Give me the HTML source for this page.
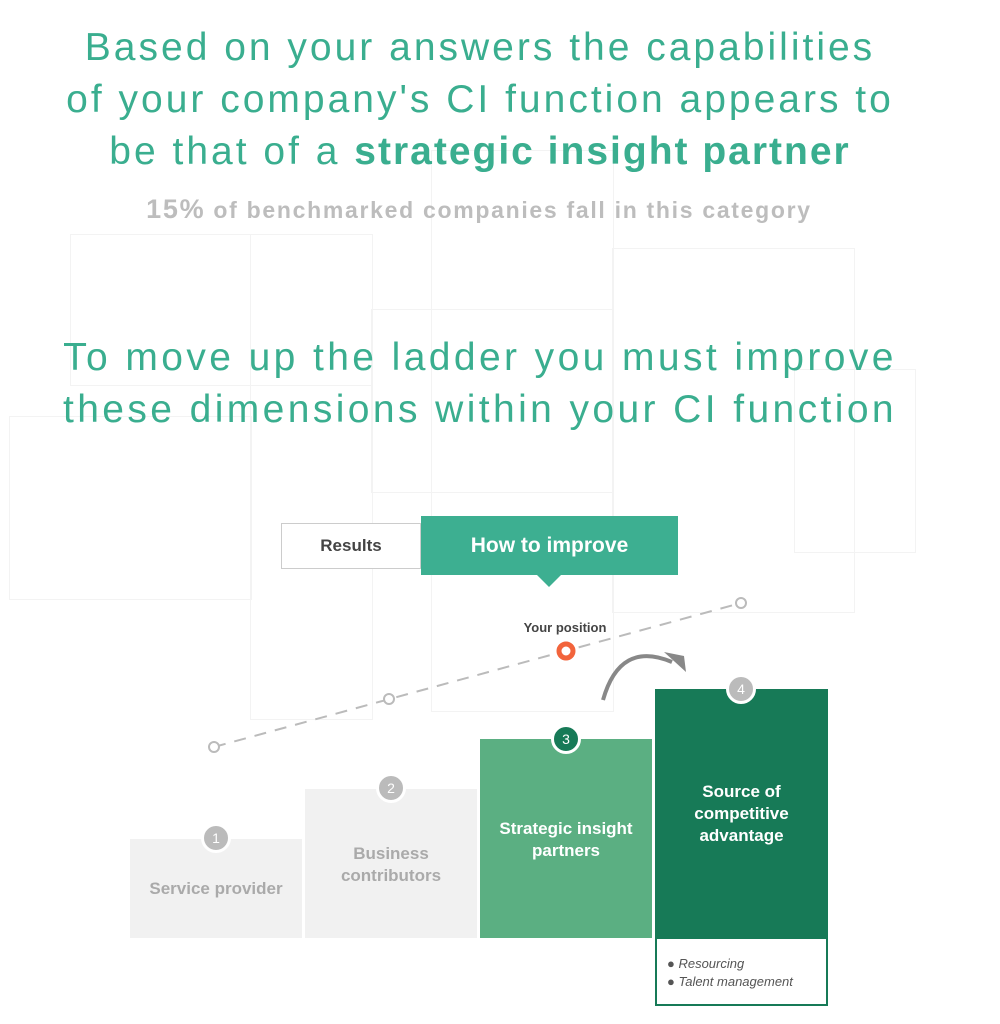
<!DOCTYPE html>
<html><head><style>
body{margin:0;width:1000px;height:1024px;background:#fff;position:relative;overflow:hidden;font-family:"Liberation Sans","DejaVu Sans",sans-serif}
.a{position:absolute}
.h{color:#3aae8f;font-size:39px;text-align:center;width:1000px;left:-20px;letter-spacing:3px}
.g{position:absolute;border:1px solid #f3f3f3}
.step{position:absolute;text-align:center;font-weight:bold;font-size:17px;box-sizing:border-box}
.c{position:absolute;width:24px;height:24px;border-radius:50%;border:3px solid #fff;color:#fff;font-size:14px;text-align:center;line-height:24px;transform:translate(-50%,-50%)}
</style></head><body>
<div class="g" style="left:70px;top:234px;width:301px;height:150px"></div>
<div class="g" style="left:250px;top:234px;width:121px;height:484px"></div>
<div class="g" style="left:431px;top:150px;width:181px;height:560px"></div>
<div class="g" style="left:371px;top:309px;width:241px;height:182px"></div>
<div class="g" style="left:612px;top:248px;width:241px;height:363px"></div>
<div class="g" style="left:9px;top:416px;width:241px;height:182px"></div>
<div class="g" style="left:794px;top:369px;width:120px;height:182px"></div>
<div class="a h" style="top:22px;line-height:52px">Based on your answers the capabilities<br>of your company's CI function appears to<br>be that of a <b style="letter-spacing:2px">strategic insight partner</b></div>
<div class="a" style="top:194px;left:0;width:958px;text-align:center;color:#bdbdbd;font-size:23px;font-weight:bold;letter-spacing:1.7px"><span style="font-size:27px">15%</span> of benchmarked companies fall in this category</div>
<div class="a h" style="top:332px;line-height:52px;letter-spacing:3.4px">To move up the ladder you must improve<br>these dimensions within your CI function</div>
<div class="a" style="left:281px;top:523px;width:138px;height:44px;border:1px solid #ccc;background:#fff;text-align:center;line-height:44px;font-weight:bold;font-size:17px;color:#444">Results</div>
<div class="a" style="left:421px;top:516px;width:257px;height:59px;background:#3daf91;color:#fff;text-align:center;line-height:59px;font-weight:bold;font-size:21px">How to improve</div>
<div class="a" style="left:536px;top:574px;width:0;height:0;border-left:13px solid transparent;border-right:13px solid transparent;border-top:13px solid #3daf91"></div>
<svg class="a" style="left:0;top:0" width="1000" height="1024">
<line x1="214" y1="747" x2="741" y2="603" stroke="#bbb" stroke-width="2" stroke-dasharray="12,9"/>
<circle cx="214" cy="747" r="5" fill="#fff" stroke="#bbb" stroke-width="2"/>
<circle cx="389" cy="699" r="5" fill="#fff" stroke="#bbb" stroke-width="2"/>
<circle cx="741" cy="603" r="5" fill="#fff" stroke="#bbb" stroke-width="2"/>
<circle cx="566" cy="651" r="7" fill="#fff" stroke="#f2643c" stroke-width="5"/>
<path d="M603 700 Q620 640 672 662" fill="none" stroke="#888" stroke-width="4"/>
<path d="M664 652 L686 672 L684 656 Z" fill="#888"/>
</svg>
<div class="a" style="left:500px;top:620px;width:130px;text-align:center;font-size:13px;font-weight:bold;color:#444">Your position</div>
<div class="step" style="left:130px;top:839px;width:172px;height:99px;background:#f1f1f1;color:#aaa;padding-top:40px">Service provider</div>
<div class="step" style="left:305px;top:789px;width:172px;height:149px;background:#f1f1f1;color:#aaa;padding-top:54px;line-height:22px">Business<br>contributors</div>
<div class="step" style="left:480px;top:739px;width:172px;height:199px;background:#5baf82;color:#fff;padding-top:79px;line-height:22px">Strategic insight<br>partners</div>
<div class="step" style="left:655px;top:689px;width:173px;height:250px;background:#177a57;color:#fff;padding-top:92px;line-height:22px">Source of<br>competitive<br>advantage</div>
<div class="a" style="left:655px;top:938px;width:173px;height:68px;border:2px solid #177a57;border-top:none;box-sizing:border-box;font-style:italic;font-size:13px;color:#555;padding:17px 0 0 10px;line-height:18px">● Resourcing<br>● Talent management</div>
<div class="c" style="left:216px;top:838px;background:#bbb">1</div>
<div class="c" style="left:391px;top:788px;background:#bbb">2</div>
<div class="c" style="left:566px;top:739px;background:#177a57">3</div>
<div class="c" style="left:741px;top:689px;background:#bbb">4</div>
</body></html>
